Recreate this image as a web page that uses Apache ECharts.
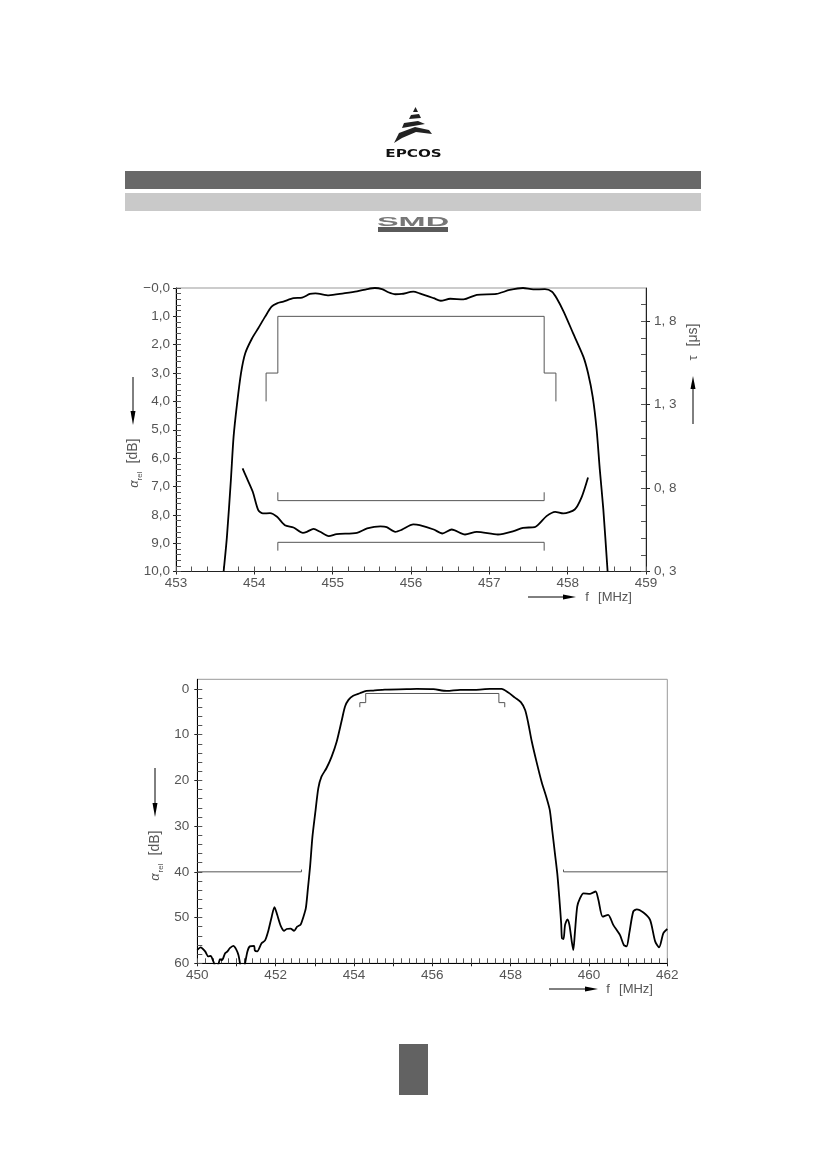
<!DOCTYPE html>
<html>
<head>
<meta charset="utf-8">
<style>html,body{margin:0;padding:0;background:#fff}#c{width:826px;height:1169px}</style>
<script src="https://cdn.jsdelivr.net/npm/echarts@6/dist/echarts.min.js"></script>
</head>
<body>
<div id="c"></div>
<script>
// ---- Chart 1 data: passband attenuation [MHz, dB]
const passAtten = [[453.608,10],[453.65,8.78],[453.70,6.8],[453.735,5.25],[453.78,4.07],[453.83,3.0],[453.884,2.3],[453.97,1.78],[454.05,1.42],[454.14,1.0],[454.22,0.66],[454.29,0.54],[454.37,0.48],[454.5,0.36],[454.61,0.34],[454.71,0.21],[454.78,0.19],[454.95,0.26],[455.14,0.19],[455.31,0.12],[455.44,0.04],[455.54,0],[455.63,0.04],[455.71,0.15],[455.8,0.22],[455.88,0.21],[456.03,0.13],[456.11,0.19],[456.29,0.36],[456.38,0.45],[456.5,0.38],[456.67,0.40],[456.84,0.24],[457.09,0.21],[457.26,0.07],[457.43,0],[457.56,0.05],[457.71,0.04],[457.8,0.13],[457.86,0.36],[457.95,0.84],[458.07,1.6],[458.2,2.42],[458.26,3.0],[458.32,3.84],[458.37,5.0],[458.41,6.4],[458.455,7.8],[458.51,10]];
// Chart 1 data: group delay [MHz, microseconds]
const groupDelay = [[453.85,0.918],[453.906,0.858],[453.98,0.778],[454.05,0.668],[454.11,0.648],[454.2,0.65],[454.29,0.628],[454.39,0.578],[454.5,0.564],[454.62,0.532],[454.67,0.538],[454.756,0.556],[454.84,0.538],[454.95,0.512],[455.05,0.524],[455.31,0.532],[455.44,0.558],[455.61,0.57],[455.69,0.566],[455.8,0.538],[455.88,0.55],[456.03,0.582],[456.11,0.578],[456.29,0.552],[456.4,0.528],[456.52,0.552],[456.69,0.522],[456.84,0.538],[457.11,0.522],[457.31,0.542],[457.43,0.562],[457.58,0.566],[457.73,0.632],[457.84,0.658],[457.945,0.648],[458.09,0.672],[458.18,0.748],[458.26,0.864]];
const passLimit = [[454.15,4],[454.15,3],[454.3,3],[454.3,1],[457.7,1],[457.7,3],[457.85,3],[457.85,4]];
const delayLimitUpper = [[454.3,0.775],[454.3,0.725],[457.7,0.725],[457.7,0.775]];
const delayLimitLower = [[454.3,0.425],[454.3,0.475],[457.7,0.475],[457.7,0.425]];
// ---- Chart 2 data: wideband attenuation [MHz, dB]
const wideAtten = [[450,57.07],[450.085,56.5],[450.2,57.4],[450.28,58.5],[450.34,58.4],[450.41,59.6],[450.48,61],[450.54,60.2],[450.58,59.1],[450.63,59.3],[450.71,57.8],[450.77,57.4],[450.83,56.7],[450.92,56.2],[450.99,56.9],[451.05,58.2],[451.09,60],[451.15,63],[451.22,60],[451.28,57.4],[451.34,56.3],[451.45,56.2],[451.47,57.2],[451.53,57.4],[451.64,55.6],[451.73,55],[451.81,53],[451.9,49.8],[451.97,47.7],[452.04,49.4],[452.13,51.8],[452.22,52.9],[452.28,52.5],[452.38,52.4],[452.47,52.9],[452.55,52],[452.64,51.5],[452.7,50.1],[452.77,48],[452.82,44],[452.88,38.8],[452.94,32.3],[453.02,26.5],[453.09,21.7],[453.17,19.2],[453.3,17.3],[453.43,14.8],[453.56,11.5],[453.69,6.8],[453.77,3.9],[453.86,2.4],[453.98,1.5],[454.15,0.95],[454.32,0.44],[454.49,0.36],[454.79,0.15],[455.34,0.07],[455.6,0],[456.03,0.07],[456.37,0.44],[456.71,0.2],[457.09,0.2],[457.47,0],[457.77,0],[457.94,0.8],[458.11,1.9],[458.26,2.9],[458.37,4.6],[458.45,7.5],[458.54,11.5],[458.66,15.9],[458.79,20.3],[458.92,23.9],[459,26.5],[459.06,30.8],[459.13,35.9],[459.19,40.3],[459.24,45.4],[459.29,51.2],[459.31,54.5],[459.35,54.7],[459.39,51.6],[459.45,50.4],[459.5,51.6],[459.56,55.2],[459.6,57.1],[459.64,53.4],[459.7,47.6],[459.77,45.8],[459.86,44.7],[460.03,44.8],[460.17,44.3],[460.24,46.1],[460.35,49.8],[460.49,49.4],[460.62,51.6],[460.79,53.8],[460.89,56],[460.96,56.3],[461.03,53.4],[461.13,48.7],[461.22,48.2],[461.39,48.9],[461.56,50.5],[461.69,55.2],[461.79,56.5],[461.9,53.4],[462,52.5]];
const wideLimitInner = [[454.15,4],[454.15,3],[454.3,3],[454.3,1],[457.7,1],[457.7,3],[457.85,3],[457.85,4]];
const stopLimitLeft = [[450,40],[452.66,40],[452.66,39.5]];
const stopLimitRight = [[459.35,39.5],[459.35,40],[462,40]];
// ---- Ticks
const wideDbLabels = [0,10,20,30,40,50,60];
const wideDbMinor = [0,2,4,6,8,10,12,14,16,18,20,22,24,26,28,30,32,34,36,38,40,42,44,46,48,50,52,54,56,58,60];
const tauMajor = [0.3,0.8,1.3,1.8];
const tauMinor = [0.3,0.4,0.5,0.6,0.7,0.8,0.9,1.0,1.1,1.2,1.3,1.4,1.5,1.6,1.7,1.8,1.9];
const wideFreqLabels = [450,452,454,456,458,460,462];
const wideFreqMajor = [450,451,452,453,454,455,456,457,458,459,460,461,462];

const FONT = '"Liberation Sans"', TXT = '#555', AX = '#222';
const lbl = (extra) => Object.assign({color:TXT,fontFamily:FONT,fontSize:13.5}, extra);
const none = {show:false};
const hiddenLine = {show:false,onZero:false};

function curve(data,x,y,w){return {type:'line',data,xAxisIndex:x,yAxisIndex:y,showSymbol:false,symbol:'none',smooth:w>1?0.25:false,silent:true,animation:false,clip:true,lineStyle:{color:w>1?'#000':'#555',width:w}};}

const xAxes = [
 {gridIndex:0,type:'value',min:453,max:459,interval:1,position:'bottom',splitLine:none,axisLine:{onZero:false,lineStyle:{color:AX,width:1}},axisTick:{length:3,lineStyle:{color:AX}},axisLabel:lbl({margin:5,formatter:v=>String(v)})},
 {gridIndex:0,type:'value',min:453,max:459,interval:0.2,position:'bottom',splitLine:none,axisLine:hiddenLine,axisTick:{inside:true,length:5,lineStyle:{color:'#555'}},axisLabel:none},
 {gridIndex:1,type:'value',min:450,max:462,position:'bottom',splitLine:none,axisLine:{onZero:false,lineStyle:{color:'#000',width:1}},axisTick:{length:3,customValues:wideFreqMajor,lineStyle:{color:AX}},axisLabel:lbl({margin:5,customValues:wideFreqLabels,formatter:v=>String(v)})},
 {gridIndex:1,type:'value',min:450,max:462,interval:0.2,position:'bottom',splitLine:none,axisLine:hiddenLine,axisTick:{inside:true,length:5,lineStyle:{color:'#555'}},axisLabel:none}
];
const yAxes = [
 {gridIndex:0,type:'value',inverse:true,min:0,max:10,interval:1,position:'left',splitLine:none,axisLine:{onZero:false,lineStyle:{color:'#000',width:1}},axisTick:{length:3,lineStyle:{color:AX}},axisLabel:lbl({margin:6,formatter:v=>v===0?'\u22120,0':v.toFixed(1).replace('.',',')})},
 {gridIndex:0,type:'value',inverse:true,min:0,max:10,interval:0.2,position:'left',splitLine:none,axisLine:hiddenLine,axisTick:{inside:true,length:5,lineStyle:{color:'#555'}},axisLabel:none},
 {gridIndex:0,type:'value',min:0.3,max:2,position:'right',splitLine:none,axisLine:{onZero:false,lineStyle:{color:AX,width:1}},axisTick:{length:4,customValues:tauMajor,lineStyle:{color:AX}},axisLabel:lbl({margin:8,customValues:tauMajor,formatter:v=>v.toFixed(1).replace('.',', ')})},
 {gridIndex:0,type:'value',min:0.3,max:2,position:'right',splitLine:none,axisLine:hiddenLine,axisTick:{inside:true,length:5,customValues:tauMinor,lineStyle:{color:'#555'}},axisLabel:none},
 {gridIndex:1,type:'value',inverse:true,min:-2.1,max:60,position:'left',splitLine:none,axisLine:{onZero:false,lineStyle:{color:'#000',width:1}},axisTick:{length:3,customValues:wideDbLabels,lineStyle:{color:AX}},axisLabel:lbl({margin:8,customValues:wideDbLabels,formatter:v=>String(v)})},
 {gridIndex:1,type:'value',inverse:true,min:-2.1,max:60,position:'left',splitLine:none,axisLine:hiddenLine,axisTick:{inside:true,length:5,customValues:wideDbMinor,lineStyle:{color:'#555'}},axisLabel:none}
];

// ---- decoration helpers (page furniture, not data)
const g = [];
const rect=(x,y,w,h,fill)=>g.push({type:'rect',shape:{x,y,width:w,height:h},style:{fill},silent:true});
const poly=(points,fill)=>g.push({type:'polygon',shape:{points},style:{fill},silent:true});
const seg=(x1,y1,x2,y2)=>g.push({type:'line',shape:{x1,y1,x2,y2},style:{stroke:'#000',lineWidth:1},silent:true});
const txt=(x,y,text,o={})=>g.push({type:'text',x,y,rotation:o.rot||0,scaleX:o.sx||1,silent:true,style:{text,fill:o.fill||TXT,font:(o.style||'')+' '+(o.size||13)+'px '+(o.family||FONT),align:'center',verticalAlign:'middle'}});
const R=Math.PI/2;
function arrowDown(x,y1,y2,hl){seg(x,y1,x,y2-hl);poly([[x-2.5,y2-hl],[x+2.5,y2-hl],[x,y2]],'#000');}
function arrowUp(x,y1,y2,hl){seg(x,y1,x,y2+hl);poly([[x-2.5,y2+hl],[x+2.5,y2+hl],[x,y2]],'#000');}
function arrowRight(y,x1,x2,hl){seg(x1,y,x2-hl,y);poly([[x2-hl,y-2.5],[x2-hl,y+2.5],[x2,y]],'#000');}

rect(125,171,576,18,'#686868');
rect(125,193,576,18,'#c9c9c9');
rect(399,1044,29,51,'#626262');
// logo
poly([[415.5,107],[418,112],[413,112]],'#222');
poly([[411,115],[419,114],[421,118],[409,119]],'#222');
poly([[404,123],[418,121],[425,124],[402,128]],'#222');
poly([[399,133],[415,127],[429,130],[432,134],[416,132],[402,138],[394,143]],'#222');
txt(413.5,154,'EPCOS',{style:'bold',size:11,sx:1.38,fill:'#111',family:'"DejaVu Sans"'});
// SMD badge
rect(378,227,70,5,'#5a5a5a');
txt(413,222,'SMD',{style:'bold',size:13,sx:2.5,fill:'#777'});
// chart 1 furniture
arrowDown(133,377,425,14);
txt(133,451,'[dB]',{rot:R,size:14});
txt(134,484,'\u03b1',{rot:R,size:13,style:'italic'});
txt(140,476,'rel',{rot:R,size:8});
arrowUp(693,424,376,13);
txt(693,358,'\u03c4',{rot:R,size:13});
txt(693,335,'[\u03bcs]',{rot:R,size:14});
arrowRight(597,528,576,13);
txt(587,597,'f',{size:13});
txt(615,597,'[MHz]',{size:13});
// chart 2 furniture
arrowDown(155,768,817,14);
txt(155,843,'[dB]',{rot:R,size:14});
txt(155,877,'\u03b1',{rot:R,size:13,style:'italic'});
txt(161,868,'rel',{rot:R,size:8});
arrowRight(989,549,598,13);
txt(608,989,'f',{size:13});
txt(636,989,'[MHz]',{size:13});

const chart = echarts.init(document.getElementById('c'),null,{renderer:'canvas'});
chart.setOption({
 animation:false,
 backgroundColor:'#fff',
 grid:[
  {left:176,top:288,width:470,height:283.5,show:true,borderColor:'#999',borderWidth:1,backgroundColor:'transparent'},
  {left:197.3,top:679.3,width:470,height:284,show:true,borderColor:'#999',borderWidth:1,backgroundColor:'transparent'}
 ],
 xAxis:xAxes,
 yAxis:yAxes,
 series:[
  curve(passLimit,0,0,1),
  curve(delayLimitUpper,0,2,1),
  curve(delayLimitLower,0,2,1),
  curve(passAtten,0,0,1.8),
  curve(groupDelay,0,2,1.8),
  curve(wideLimitInner,2,4,1),
  curve(stopLimitLeft,2,4,1),
  curve(stopLimitRight,2,4,1),
  curve(wideAtten,2,4,1.8)
 ],
 graphic:{elements:g}
});
</script>
</body>
</html>
